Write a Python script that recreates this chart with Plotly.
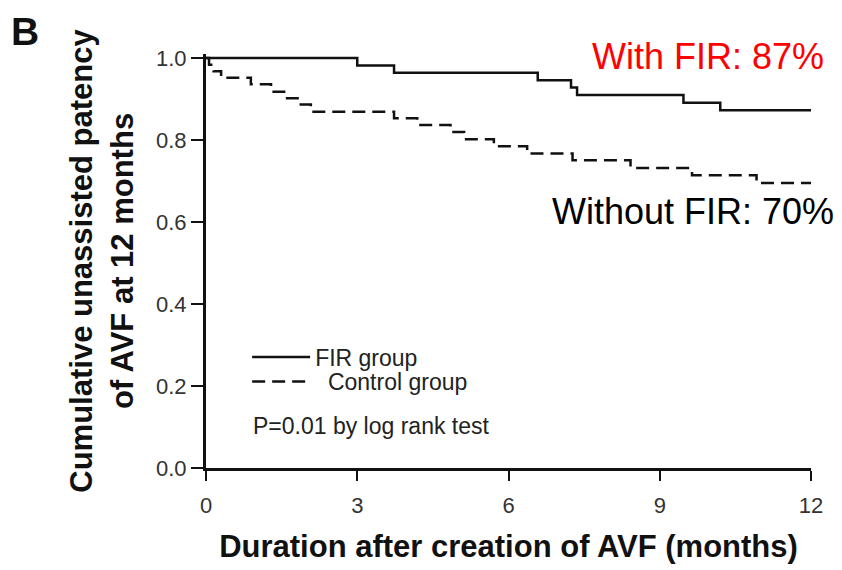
import plotly.graph_objects as go

# Kaplan-Meier step data
fir_months = [0, 3.0, 3.73, 6.58, 7.24, 7.36, 9.47, 10.2, 12]
fir_surv = [1.0, 0.982, 0.964, 0.946, 0.928, 0.910, 0.891, 0.873, 0.873]

ctrl_months = [0, 0.06, 0.15, 0.3, 0.89, 1.29, 1.58, 1.88, 2.08, 3.73, 4.19,
               4.85, 5.12, 5.71, 6.37, 7.27, 8.42, 9.64, 10.92, 12]
ctrl_surv = [1.0, 0.984, 0.968, 0.952, 0.936, 0.918, 0.902, 0.887, 0.869, 0.853,
             0.837, 0.820, 0.802, 0.785, 0.767, 0.751, 0.732, 0.714, 0.695, 0.695]

x_ticks = [0, 3, 6, 9, 12]
y_ticks = [0.0, 0.2, 0.4, 0.6, 0.8, 1.0]
y_tick_labels = ["0.0", "0.2", "0.4", "0.6", "0.8", "1.0"]

FONT = "Liberation Sans, Arial, sans-serif"

fig = go.Figure()
fig.add_trace(go.Scatter(
    x=fir_months, y=fir_surv, mode="lines", line_shape="hv",
    name="FIR group", legend="legend",
    line=dict(color="#111111", width=2.5)))
fig.add_trace(go.Scatter(
    x=ctrl_months, y=ctrl_surv, mode="lines", line_shape="hv",
    name="\u00a0\u00a0Control group", legend="legend2",
    line=dict(color="#111111", width=2.5, dash="13px,7px")))

legend_style = dict(xanchor="left", yanchor="middle",
                    font=dict(size=23, color="#222222"),
                    bgcolor="rgba(0,0,0,0)", itemwidth=58)

fig.update_layout(
    width=834, height=562,
    margin=dict(l=198, r=31, t=46, b=100),
    paper_bgcolor="white", plot_bgcolor="white",
    font=dict(family=FONT, color="#222222"),
    showlegend=True,
    legend=dict(x=0.068, y=0.268, **legend_style),
    legend2=dict(x=0.068, y=0.209, **legend_style),
    xaxis=dict(range=[0, 12], tickvals=x_ticks, ticks="outside", ticklen=10,
               tickwidth=2, tickcolor="#111111", showline=True, linewidth=3,
               linecolor="#111111", showgrid=False, zeroline=False,
               ticklabelstandoff=6,
               tickfont=dict(size=22, color="#333333"),
               title=dict(text="<b>Duration after creation of AVF (months)</b>",
                          font=dict(size=31, color="#111111"), standoff=18)),
    yaxis=dict(range=[0, 1.01], tickvals=y_ticks, ticktext=y_tick_labels,
               ticks="outside", ticklen=12, tickwidth=2, tickcolor="#111111",
               showline=True, linewidth=3, linecolor="#111111",
               showgrid=False, zeroline=False,
               tickfont=dict(size=22, color="#333333"),
               title=dict(text="<b>Cumulative unassisted patency<br>of AVF at 12 months</b>",
                          font=dict(size=31, color="#111111"), standoff=14)),
    annotations=[
        dict(text="<b>B</b>", xref="paper", yref="paper", x=-0.326, y=1.1106,
             xanchor="left", yanchor="top", showarrow=False,
             font=dict(size=39, color="#111111")),
        dict(text="With FIR: 87%", xref="paper", yref="paper", x=1.0256, y=0.993,
             xanchor="right", yanchor="middle", showarrow=False,
             font=dict(size=36, color="#ff0000")),
        dict(text="Without FIR: 70%", xref="paper", yref="paper", x=1.042, y=0.62,
             xanchor="right", yanchor="middle", showarrow=False,
             font=dict(size=36, color="#000000")),
        dict(text="P=0.01 by log rank test", xref="paper", yref="paper", x=0.0744, y=0.101,
             xanchor="left", yanchor="middle", showarrow=False,
             font=dict(size=23, color="#222222")),
    ],
)

fig.write_html("out.html")
